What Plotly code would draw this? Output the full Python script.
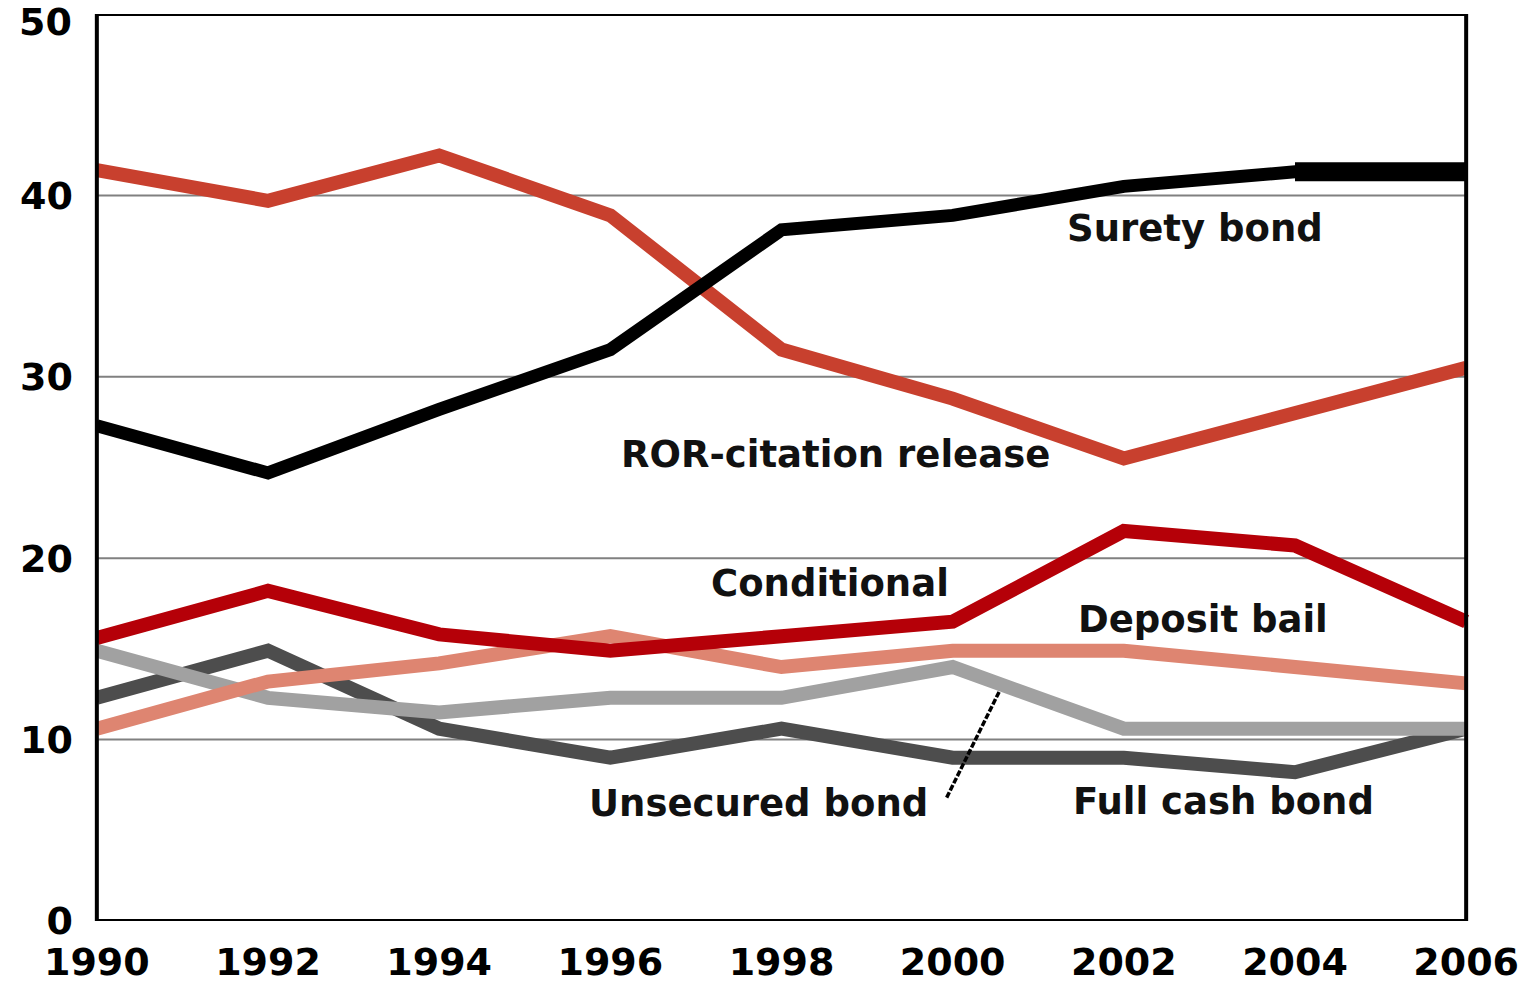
import plotly.graph_objects as go

years = [1990, 1992, 1994, 1996, 1998, 2000, 2002, 2004, 2006]

surety_bond = [27.3, 24.7, 28.2, 31.5, 38.1, 38.9, 40.5, 41.3, 41.3]
ror_citation = [41.4, 39.7, 42.2, 38.9, 31.5, 28.8, 25.5, 28.0, 30.5]
conditional = [15.6, 18.2, 15.8, 14.9, 15.7, 16.5, 21.5, 20.7, 16.5]
deposit_bail = [10.6, 13.2, 14.2, 15.7, 14.0, 14.9, 14.9, 14.0, 13.1]
unsecured_bond = [14.9, 12.3, 11.5, 12.3, 12.3, 14.0, 10.6, 10.6, 10.6]
full_cash_bond = [12.3, 14.9, 10.6, 9.0, 10.6, 9.0, 9.0, 8.2, 10.6]

y_ticks = [0, 10, 20, 30, 40, 50]
x_ticks = years

FONT = "DejaVu Sans"

fig = go.Figure()

series = [
    ("Full cash bond", full_cash_bond, "#4d4d4d", 14),
    ("Unsecured bond", unsecured_bond, "#a1a1a1", 14),
    ("Deposit bail", deposit_bail, "#de8571", 14),
    ("Conditional", conditional, "#b50008", 14),
    ("ROR-citation release", ror_citation, "#c8402e", 14),
    ("Surety bond", surety_bond, "#000000", 13),
]
for name, vals, col, w in series:
    fig.add_trace(go.Scatter(x=years, y=vals, mode="lines", name=name,
                             line=dict(color=col, width=w), showlegend=False,
                             hoverinfo="skip"))
# thicker final segment of surety bond
fig.add_trace(go.Scatter(x=years[-2:], y=surety_bond[-2:], mode="lines",
                         line=dict(color="#000000", width=19), showlegend=False,
                         hoverinfo="skip"))

x0, x1 = years[0], years[-1]
shapes = []
for yv in y_ticks[1:-1]:
    shapes.append(dict(type="line", xref="x", yref="y", x0=x0, x1=x1, y0=yv, y1=yv,
                       line=dict(color="#808080", width=2), layer="below"))
shapes.append(dict(type="rect", xref="x", yref="y", x0=x0, x1=x1, y0=0, y1=50,
                   line=dict(color="#000000", width=4), layer="above"))
# leader line for Unsecured bond
shapes.append(dict(type="line", xref="x", yref="y", x0=1999.93, y0=6.8, x1=2000.55, y1=12.7,
                   line=dict(color="#000000", width=3.5, dash="6px,2px"), layer="above"))

annos = [
    ("Surety bond", 2002.83, 38.2),
    ("ROR-citation release", 1998.63, 25.7),
    ("Conditional", 1998.57, 18.6),
    ("Deposit bail", 2002.92, 16.6),
    ("Unsecured bond", 1997.73, 6.5),
    ("Full cash bond", 2003.16, 6.56),
]
annotations = [dict(text=t, x=x, y=y, xref="x", yref="y", showarrow=False,
                    font=dict(family=FONT, size=37, color="#111111", weight="bold"),
                    xanchor="center", yanchor="middle") for t, x, y in annos]
# top tick label (would touch the page edge as a regular tick label)
annotations.append(dict(text=str(y_ticks[-1]), x=0, xref="paper", y=y_ticks[-1], yref="y",
                        xanchor="right", yanchor="middle", xshift=-10, yshift=-8,
                        showarrow=False,
                        font=dict(family=FONT, size=38, color="#000000", weight="bold")))

fig.update_layout(
    width=1522, height=983,
    margin=dict(l=84.2, r=43.2, t=13.5, b=62, autoexpand=False),
    plot_bgcolor="white", paper_bgcolor="white",
    shapes=shapes, annotations=annotations,
    xaxis=dict(range=[1989.85, 2006.15], tickvals=x_ticks, ticktext=[str(v) for v in x_ticks],
               showgrid=False, zeroline=False, showline=False, ticks="",
               automargin=False, ticklabelstandoff=15, ticklabeloverflow="allow",
               tickfont=dict(family=FONT, size=38, color="#000000", weight="bold")),
    yaxis=dict(range=[-0.001, 50.001], tickvals=y_ticks[:-1], showgrid=False, zeroline=False,
               showline=False, ticks="", ticklabelstandoff=10, automargin=False,
               ticklabeloverflow="allow",
               tickfont=dict(family=FONT, size=38, color="#000000", weight="bold")),
)

fig.write_html("out.html", config={"displayModeBar": False},
               post_script="document.body.style.margin='0';document.body.style.overflow='hidden';")
